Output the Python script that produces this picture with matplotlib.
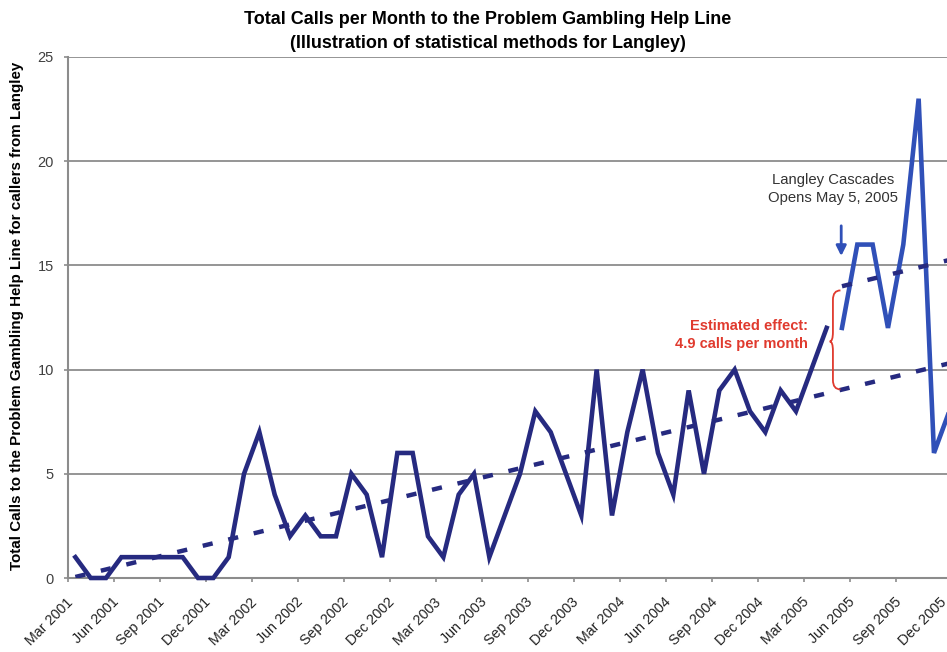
import matplotlib
matplotlib.use('Agg')
import matplotlib.pyplot as plt
from matplotlib.path import Path
from matplotlib.patches import PathPatch
import matplotlib.transforms as mtransforms

plt.rcParams['font.family'] = ['Liberation Sans', 'DejaVu Sans']

# tick labels, one every 3 months starting Mar 2001
tick_labels = ['Mar 2001', 'Jun 2001', 'Sep 2001', 'Dec 2001', 'Mar 2002', 'Jun 2002',
               'Sep 2002', 'Dec 2002', 'Mar 2003', 'Jun 2003', 'Sep 2003', 'Dec 2003',
               'Mar 2004', 'Jun 2004', 'Sep 2004', 'Dec 2004', 'Mar 2005', 'Jun 2005',
               'Sep 2005', 'Dec 2005']

# monthly calls before the casino opened (Mar 2001 - Apr 2005)
calls_before = [1, 0, 0, 1, 1, 1, 1, 1, 0, 0, 1, 5, 7, 4, 2, 3, 2, 2, 5, 4,
                1, 6, 6, 2, 1, 4, 5, 1, 3, 5, 8, 7, 5, 3, 10, 3, 7, 10, 6, 4,
                9, 5, 9, 10, 8, 7, 9, 8, 10, 12]
# monthly calls after opening (May 2005 - Dec 2005)
calls_after = [12, 16, 16, 12, 16, 23, 6, 8]

# trend lines (month index, value)
trend_x = [0, 57]
trend_y = [0.05, 10.3]
trend_after_x = [50, 57]
trend_after_y = [14.0, 15.26]

navy = '#262a80'
blue = '#3050b8'
red = '#e03a2e'
grey = '#8c8c8c'

fig = plt.figure(figsize=(9.47, 6.52), dpi=100)
ax = fig.add_axes([67.7 / 947, 1 - 578 / 652, (947 - 67.7) / 947, (578 - 57) / 652])

x_before = list(range(len(calls_before)))
x_after = list(range(len(calls_before), len(calls_before) + len(calls_after)))

ax.plot(x_before, calls_before, color=navy, lw=3.3, clip_on=False, zorder=3,
        solid_joinstyle='miter')
ax.plot(x_after, calls_after, color=blue, lw=3.3, clip_on=False, zorder=3,
        solid_joinstyle='miter')
ax.plot(trend_x, trend_y, color=navy, lw=3.2, dashes=(2.3, 3.6), zorder=3)
ax.plot(trend_after_x, trend_after_y, color=navy, lw=3.2, dashes=(2.3, 3.6), zorder=3)

# axes look
ax.set_xlim(-0.5, 56.85)
ax.set_ylim(0, 25)
ax.set_yticks([0, 5, 10, 15, 20, 25])
ax.yaxis.grid(True, color=grey, lw=1.3)
ax.set_axisbelow(True)
for s in ['top', 'right']:
    ax.spines[s].set_visible(False)
for s in ['left', 'bottom']:
    ax.spines[s].set_color(grey)
    ax.spines[s].set_linewidth(1.5)
ax.tick_params(axis='y', length=3, width=1.2, color=grey, labelsize=10.5,
               labelcolor='#404040', pad=7)
ax.set_xticks([-0.5 + 3 * k for k in range(19)])
ax.set_xticklabels([])
ax.tick_params(axis='x', length=3, width=1.2, color=grey)

# rotated month labels drawn as text so the last one is kept
off = mtransforms.ScaledTranslation(-4.5 / 100, -22 / 100, fig.dpi_scale_trans)
tr = ax.get_xaxis_transform() + off
for k, lab in enumerate(tick_labels):
    ax.text(3 * k, 0, lab, transform=tr, rotation=45, rotation_mode='anchor',
            ha='right', va='center', fontsize=10.3, color='#222222', clip_on=False)

fig.text(0.515, 1 - 31.5 / 652, 'Total Calls per Month to the Problem Gambling Help Line\n'
         '(Illustration of statistical methods for Langley)', ha='center', va='center',
         fontsize=13, fontweight='bold', linespacing=1.5,
         family=['Liberation Sans Narrow', 'Liberation Sans', 'DejaVu Sans'])
fig.text(17 / 947, 1 - 316 / 652,
         'Total Calls to the Problem Gambling Help Line for callers from Langley',
         rotation=90, ha='center', va='center', fontsize=10.9, fontweight='bold')

# annotations
ax.text(49.41, 18.67, 'Langley Cascades\nOpens May 5, 2005', ha='center', va='center',
        fontsize=10.7, color='#333333', linespacing=1.3)
ax.annotate('', xy=(49.95, 15.45), xytext=(49.95, 16.9),
            arrowprops=dict(arrowstyle='-|>', color=blue, lw=2, mutation_scale=15,
                            shrinkA=0, shrinkB=0))
ax.text(47.78, 11.66, 'Estimated effect:\n4.9 calls per month', ha='right', va='center',
        fontsize=10.5, fontweight='bold', color=red, linespacing=1.4)

# curly brace between the two trend lines
xs, xt, xe = 49.41, 49.2, 49.9
top, bot, mid, r = 13.8, 9.05, 11.35, 0.45
verts = [(xe, top), (xs, top), (xs, top - r),
         (xs, mid + r), (xs, mid), (xt, mid),
         (xs, mid), (xs, mid - r),
         (xs, bot + r), (xs, bot), (xe, bot)]
codes = [Path.MOVETO, Path.CURVE3, Path.CURVE3,
         Path.LINETO, Path.CURVE3, Path.CURVE3,
         Path.CURVE3, Path.CURVE3,
         Path.LINETO, Path.CURVE3, Path.CURVE3]
ax.add_patch(PathPatch(Path(verts, codes), fill=False, edgecolor=red, lw=1.3, zorder=4))

fig.savefig('out.png', dpi=100)
